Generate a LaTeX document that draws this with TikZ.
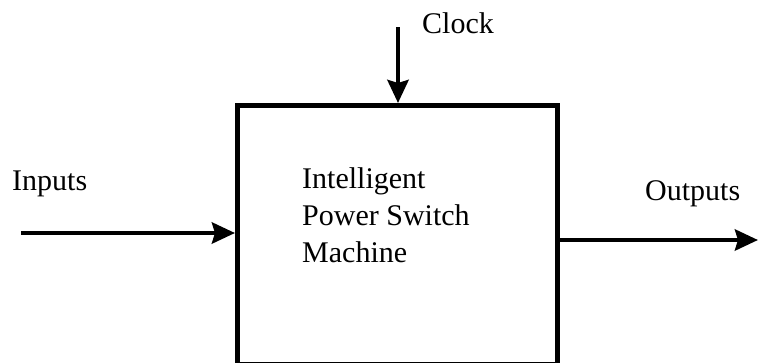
\documentclass[tikz,border=0pt]{standalone}
\usepackage{fontspec}
\setmainfont{Liberation Serif}
\usetikzlibrary{positioning,arrows.meta}
\tikzstyle{block}=[draw=black,line width=5pt,minimum width=320pt,minimum height=259pt,inner sep=0pt]
\tikzstyle{signal} = [draw=black,line width=4.5pt,-{Stealth[length=23pt,width=21pt,inset=3pt]}]
\tikzstyle{label}=[font=\fontsize{30}{37}\selectfont,inner sep=0pt]

\begin{document}
\begin{tikzpicture}[x=1pt,y=-1pt]
  \useasboundingbox (0,0) rectangle (759,362);

  % the machine itself, its bottom edge runs off the page
  \node[block] (machine) at (397.5,235) {};
  \node[label,align=left,anchor=base west] (name) at (302,262)
    {Intelligent\\Power Switch\\Machine};

  % free ends of the signals
  \coordinate (clk) at (398,27);
  \coordinate (in) at (21,233);
  \coordinate (out) at (758,240);

  \node[label,anchor=base west] (clklabel) at (422,33) {Clock};
  \node[label,anchor=base west] (inlabel) at (12,190) {Inputs};
  \node[label,anchor=base west] (outlabel) at (645,200) {Outputs};

  % Connect signals to the machine
  \path[signal] (clk) -- (clk |- machine.north);
  \path[signal] (in) -- (machine.west |- in);
  \path[signal] (machine.east |- out) -- (out);
\end{tikzpicture}
\end{document}
